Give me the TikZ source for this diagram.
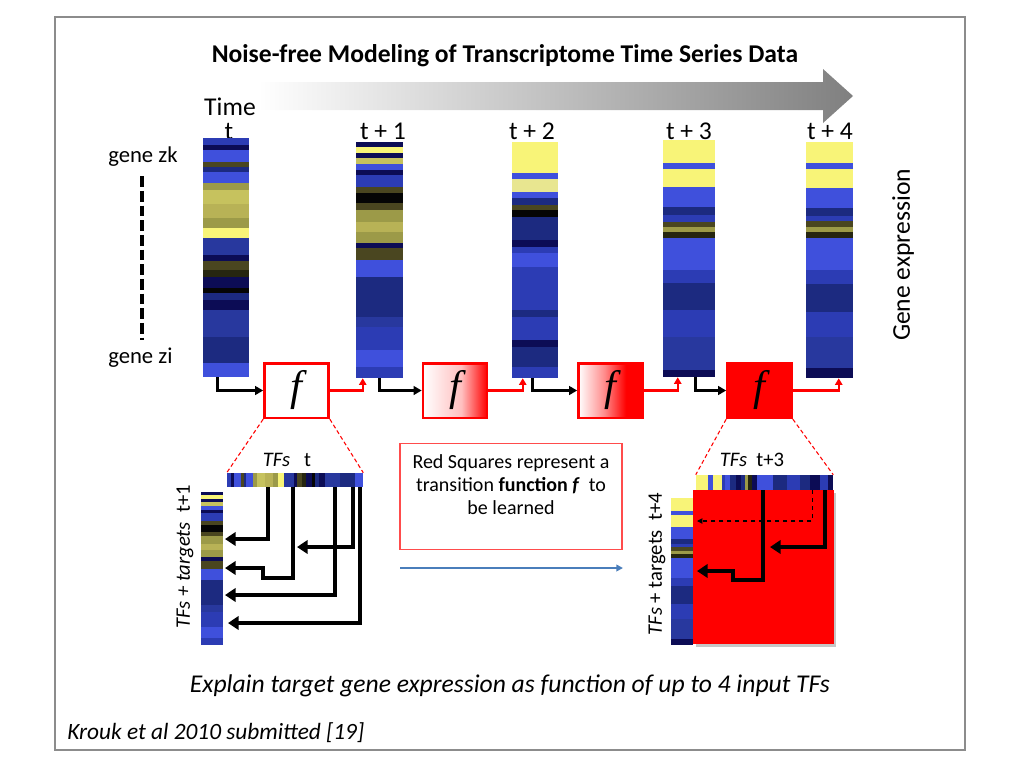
\documentclass[tikz,border=0pt]{standalone}
\usepackage{fontspec}
\setmainfont{Carlito}
\newfontfamily\ffont{Liberation Serif}
\usetikzlibrary{arrows.meta,calc,fit}
\definecolor{hB}{HTML}{3F50DC}
\definecolor{hM}{HTML}{2C3CB4}
\definecolor{hM2}{HTML}{28389E}
\definecolor{hD}{HTML}{1C2A80}
\definecolor{hN}{HTML}{0C0C55}
\definecolor{hK}{HTML}{050505}
\definecolor{hY}{HTML}{F8F478}
\definecolor{hL}{HTML}{E8E690}
\definecolor{hG}{HTML}{C6C25E}
\definecolor{hG2}{HTML}{B8B256}
\definecolor{hO}{HTML}{9C9A48}
\definecolor{hE}{HTML}{4A4620}
\definecolor{hF}{HTML}{262610}
\definecolor{frameg}{HTML}{8C8C8C}
\definecolor{bluearr}{HTML}{4A7EBB}
\pgfdeclarehorizontalshading{fTwo}{100bp}{color(0bp)=(white); color(25bp)=(white); color(55bp)=(red!25!white); color(75bp)=(red); color(100bp)=(red)}
\pgfdeclarehorizontalshading{fThree}{100bp}{color(0bp)=(white); color(25bp)=(white); color(45bp)=(red!45!white); color(62bp)=(red); color(100bp)=(red)}
\newcommand\heatv[6]{\foreach \ya/\yb/\cc in #6 {\fill[\cc] ({#1},{#2+\ya/#5*(#4-#2)}) rectangle ({#3},{#2+\yb/#5*(#4-#2)+0.4});}}
\newcommand\heath[6]{\foreach \ya/\yb/\cc in #6 {\fill[\cc] ({#1+\ya/#5*(#3-#1)},{#2}) rectangle ({#1+\yb/#5*(#3-#1)+0.4},{#4});}}
\def\colA{0/7/hM, 7/12/hN, 12/24/hB, 24/29/hE, 29/34/hD, 34/45/hB, 45/52/hO, 52/66/hG, 66/80/hG2, 80/90/hO, 90/100/hY, 100/117/hM2, 117/123/hN, 123/132/hE, 132/139/hF, 139/150/hN, 150/155/hK, 155/162/hD, 162/172/hN, 172/185/hM2, 185/199/hM2, 199/225/hD, 225/239/hB}
\def\colB{0/5/hN, 5/11/hY, 11/16/hN, 16/22/hG, 22/28/hB, 28/33/hN, 33/45/hM, 45/51/hE, 51/61/hK, 61/68/hE, 68/80/hO, 80/90/hG2, 90/101/hO, 101/106/hN, 106/118/hE, 118/135/hB, 135/175/hD, 175/185/hM2, 185/208/hM, 208/225/hB, 225/236/hM}
\def\colC{0/31/hY, 31/37/hB, 37/50/hL, 50/56/hB, 56/63/hD, 63/68/hE, 68/75/hK, 75/98/hD, 98/105/hN, 105/111/hM, 111/125/hB, 125/168/hM, 168/175/hD, 175/198/hM, 198/205/hN, 205/225/hD, 225/236/hM}
\def\colD{0/23/hY, 23/29/hB, 29/47/hY, 47/67/hB, 67/75/hD, 75/82/hM, 82/87/hE, 87/92/hO, 92/98/hF, 98/130/hB, 130/143/hM, 143/170/hD, 170/197/hM, 197/230/hM2, 230/237/hN}
\def\colE{0/21/hY, 21/27/hB, 27/46/hY, 46/66/hB, 66/74/hD, 74/79/hM, 79/85/hE, 85/90/hO, 90/96/hF, 96/128/hB, 128/142/hM, 142/170/hD, 170/195/hM, 195/226/hM2, 226/236/hN}
\def\rowR{0/12/hY, 12/17/hB, 17/26/hY, 26/29/hM, 29/34/hB, 34/40/hD, 40/45/hN, 45/49/hD, 49/52/hO, 52/56/hF, 56/61/hN, 61/77/hB, 77/91/hD, 91/104/hM, 104/114/hD, 114/124/hN, 124/132/hM, 132/137/hN}
\tikzset{
  lab/.style={font=\fontsize{19.2}{22}\selectfont, inner sep=0},
  fbox/.style={draw=red, line width=2pt, minimum width=48pt, minimum height=41pt, inner sep=0, font=\fontsize{32}{32}\selectfont\ffont\itshape},
  blk/.style={line width=2pt, -{Triangle[length=6pt,width=6.5pt]}},
  redc/.style={red, line width=1.6pt, -{Triangle[length=5pt,width=5.5pt]}},
  big/.style={line width=3pt, -{Triangle[length=8pt,width=10pt]}},
  zoomline/.style={red, dashed, line width=0.8pt, dash pattern=on 3pt off 2pt},
  bar/.style={inner sep=0, draw=none},
}
\begin{document}
\begin{tikzpicture}[x=0.75pt,y=-0.75pt]
\useasboundingbox (0,0) rectangle (1024,768);
\draw[frameg, line width=0.8pt] (55,17) rectangle (965,750);
% title
\node[font=\fontsize{19.2}{22}\selectfont\bfseries, anchor=base] (title) at (505,62) {Noise-free Modeling of Transcriptome Time Series Data};
\shade[left color=white, right color=gray] (258,82) -- (823,82) -- (823,69) -- (853,96) -- (823,123) -- (823,110) -- (258,110) -- cycle;
% time labels
\node[lab, anchor=base] (time) at (230,115) {Time};
\node[lab, anchor=base] (t0) at (229,139) {t};
\node[lab, anchor=base] (t1) at (383,139) {t + 1};
\node[lab, anchor=base] (t2) at (532,139) {t + 2};
\node[lab, anchor=base] (t3) at (689,139) {t + 3};
\node[lab, anchor=base] (t4) at (830,139) {t + 4};
% gene labels
\node[font=\fontsize{17}{20}\selectfont, anchor=base west, inner sep=0] (gzk) at (108,162) {gene zk};
\node[font=\fontsize{17}{20}\selectfont, anchor=base west, inner sep=0] (gzi) at (108,363) {gene zi};
\draw[line width=2.4pt, dash pattern=on 8pt off 3pt] (gzk.south -| 142,0) ++(0,10) -- (142,340);
\node[lab, rotate=90] (gexp) at (903,255) {Gene expression};
% heatmap columns
\node[bar, fit={(203,138) (249,377)}] (c0) {};
\node[bar, fit={(356,142) (403,378)}] (c1) {};
\node[bar, fit={(512,142) (558,378)}] (c2) {};
\node[bar, fit={(663,140) (715,377)}] (c3) {};
\node[bar, fit={(806,142) (853,378)}] (c4) {};
\heatv{203}{138}{249}{377}{239}{\colA}
\heatv{356}{142}{403}{378}{236}{\colB}
\heatv{512}{142}{558}{378}{236}{\colC}
\heatv{663}{140}{715}{377}{237}{\colD}
\heatv{806}{142}{853}{378}{236}{\colE}
% f boxes
\node[fbox, fill=white] (f1) at (296.5,390.5) {f};
\node[fbox, shade, shading=fTwo] (f2) at (455,390.5) {f};
\node[fbox, shade, shading=fThree] (f3) at (610.5,390.5) {f};
\node[fbox, fill=red] (f4) at (759.5,390.5) {f};
% connectors
\draw[blk] ($(c0.south west)+(15,0)$) |- (f1.west);
\draw[redc] (f1.east) -| ($(c1.south west)+(7,0)$);
\draw[blk] ($(c1.south west)+(24,0)$) |- (f2.west);
\draw[redc] (f2.east) -| ($(c2.south west)+(11,0)$);
\draw[blk] ($(c2.south west)+(21,0)$) |- (f3.west);
\draw[redc] (f3.east) -| ($(c3.south west)+(15,0)$);
\draw[blk] ($(c3.south west)+(33,0)$) |- (f4.west);
\draw[redc] (f4.east) -| ($(c4.south west)+(33,0)$);
% bottom left detail
\node[bar, fit={(227,473) (363,487)}] (hLb) {};
\node[bar, fit={(201,492) (223,645)}] (vLb) {};
\heath{227}{473}{363}{487}{239}{\colA}
\heatv{201}{492}{223}{645}{236}{\colB}
\draw[zoomline] (f1.south west) -- (hLb.north west);
\draw[zoomline] (f1.south east) -- (hLb.north east);
\node[font=\fontsize{15.5}{18}\selectfont, anchor=base] (tfsL) at (287,466) {\textit{TFs}~~~t};
\node[font=\fontsize{15.5}{18}\selectfont, rotate=90] (tgL) at (185,557) {\textit{TFs + targets}~~t+1};
\coordinate (l1) at (225,539);
\coordinate (l2) at (225,568);
\coordinate (l3) at (297,547);
\coordinate (l4) at (225,595);
\coordinate (l5) at (228,623);
\draw[big] ($(hLb.south west)+(41,0)$) |- (l1);
\draw[big] ($(hLb.south west)+(66,0)$) |- (263,578) |- (l2);
\draw[big] ($(hLb.south west)+(126,0)$) |- (l3);
\draw[big] ($(hLb.south west)+(108,0)$) |- (l4);
\draw[big] ($(hLb.south west)+(133,0)$) |- (l5);
% middle note
\node[draw=red!70!white, line width=0.8pt, minimum width=166.5pt, minimum height=80pt, inner sep=0] (note) at (511,496.5) {};
\node[font=\fontsize{15}{17.3}\selectfont, align=center] (notetext) at (511,485) {Red Squares represent a\\transition \textbf{function \textit{f}}~ to\\be learned};
\coordinate (ba) at (400,568);
\coordinate (bb) at (623,568);
\draw[bluearr, line width=1.5pt, -{Triangle[length=5pt,width=5pt]}] (ba) -- (bb);
% bottom right detail
\fill[gray!45] (696,493) rectangle (836,647);
\node[bar, fill=red, fit={(693,490) (834,644)}] (sqR) {};
\node[bar, fit={(696,475) (833,490)}] (hRb) {};
\node[bar, fit={(671,498) (693,645)}] (vRb) {};
\heath{696}{475}{833}{490}{137}{\rowR}
\heatv{671}{498}{693}{645}{236}{\colE}
\draw[zoomline] (f4.south west) -- (hRb.north west);
\draw[zoomline] (f4.south east) -- (hRb.north east);
\node[font=\fontsize{15.5}{18}\selectfont, anchor=base] (tfsR) at (752,466) {\textit{TFs}~~t+3};
\node[font=\fontsize{15.5}{18}\selectfont, rotate=90] (tgR) at (657,564) {\textit{TFs} + targets~~t+4};
\coordinate (r1) at (697,571);
\coordinate (r2) at (770,547);
\coordinate (r3) at (697,521);
\draw[big] ($(hRb.south west)+(67,0)$) |- (733,580) |- (r1);
\draw[big] ($(hRb.south west)+(129,0)$) |- (r2);
\draw[line width=0.8pt, dashed, -{Triangle[length=4pt,width=4pt]}] ($(hRb.south west)+(117,0)$) |- (r3);
% bottom texts
\node[font=\fontsize{19.2}{22}\selectfont\itshape] (expl) at (510,686) {Explain target gene expression as function of up to 4 input TFs};
\node[font=\fontsize{17.5}{20}\selectfont\itshape, anchor=west, inner sep=0] (krouk) at (67,733) {Krouk et al 2010 submitted [19]};
\end{tikzpicture}
\end{document}
